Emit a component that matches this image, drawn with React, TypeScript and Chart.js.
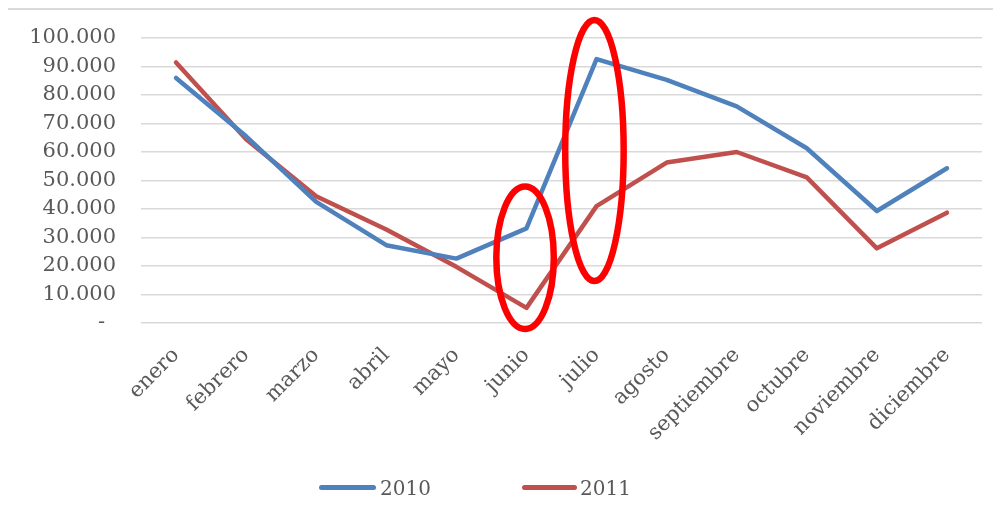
import React, { useEffect, useRef } from "react";
import { Chart, registerables } from "chart.js";

Chart.register(...registerables);

const months = [
  "enero", "febrero", "marzo", "abril", "mayo", "junio",
  "julio", "agosto", "septiembre", "octubre", "noviembre", "diciembre",
];
const series2010 = [86000, 65500, 42500, 27300, 22600, 33200, 92600, 85300, 76000, 61300, 39300, 54300];
const series2011 = [91400, 64500, 44500, 32800, 19700, 5300, 41000, 56300, 60000, 51100, 26200, 38700];
const seriesNames = ["2010", "2011"];
const seriesColors = ["#4F81BD", "#C0504D"];
const yMin = 0;
const yMax = 100000;
const yStep = 10000;

// red hand-drawn style rings
const ringCategories = ["junio", "julio"];
const ringCenters = [22900, 60500];
const ringHalfHeights = [25000, 45800];
const ringHalfWidths = [0.41, 0.417];
const ringShift = [-0.02, -0.03];

const FONT = "'DejaVu Serif', serif";
const TEXT = "#595959";

function fmt(v: number): string {
  if (v === 0) return "- \u2009";
  return String(v).replace(/\B(?=(\d{3})+(?!\d))/g, ".");
}

const ringPlugin = {
  id: "rings",
  afterDraw(chart: any) {
    const { ctx, scales } = chart;
    const x = scales.x;
    const y = scales.y;
    const step = x.getPixelForValue(1) - x.getPixelForValue(0);
    ctx.save();
    ctx.strokeStyle = "#FF0000";
    ctx.lineWidth = 6.5;
    ringCategories.forEach((cat, i) => {
      const idx = months.indexOf(cat);
      const cx = x.getPixelForValue(idx) + ringShift[i] * step;
      const cy = y.getPixelForValue(ringCenters[i]);
      const ry = Math.abs(y.getPixelForValue(ringCenters[i] + ringHalfHeights[i]) - cy);
      const rx = ringHalfWidths[i] * step;
      ctx.beginPath();
      ctx.ellipse(cx, cy, rx, ry, 0, 0, Math.PI * 2);
      ctx.stroke();
    });
    ctx.restore();
  },
};

export default function App() {
  const ref = useRef<HTMLCanvasElement | null>(null);

  useEffect(() => {
    if (!ref.current) return;
    const chart = new Chart(ref.current, {
      type: "line",
      data: {
        labels: months,
        datasets: [
          {
            label: seriesNames[0],
            data: series2010,
            borderColor: seriesColors[0],
            backgroundColor: seriesColors[0],
            borderWidth: 4.5,
            pointRadius: 0,
            tension: 0,
            borderCapStyle: "round",
            borderJoinStyle: "round",
          },
          {
            label: seriesNames[1],
            data: series2011,
            borderColor: seriesColors[1],
            backgroundColor: seriesColors[1],
            borderWidth: 4.5,
            pointRadius: 0,
            tension: 0,
            borderCapStyle: "round",
            borderJoinStyle: "round",
          },
        ],
      },
      options: {
        responsive: false,
        animation: false,
        devicePixelRatio: 1,
        layout: { padding: { top: 30, right: 11, left: 0, bottom: 0 } },
        plugins: {
          legend: { display: false },
          tooltip: { enabled: false },
        },
        scales: {
          x: {
            offset: true,
            grid: { display: false, drawTicks: false },
            border: { display: false },
            ticks: {
              autoSkip: false,
              maxRotation: 45,
              minRotation: 45,
              padding: 20,
              color: TEXT,
              font: { family: FONT, size: 21 },
            },
            afterFit: (s: any) => {
              s.height = 181;
            },
          },
          y: {
            min: yMin,
            max: yMax,
            grid: { color: "#D9D9D9", lineWidth: 1.5, drawTicks: false },
            border: { display: false },
            ticks: {
              stepSize: yStep,
              padding: 25,
              color: TEXT,
              font: { family: FONT, size: 21 },
              callback: (v: any) => fmt(Number(v)),
            },
            afterFit: (s: any) => {
              s.width = 133;
              s.paddingTop = 0;
              s.paddingBottom = 0;
            },
          },
        },
      },
      plugins: [ringPlugin],
    });
    return () => chart.destroy();
  }, []);

  const legendText: React.CSSProperties = {
    position: "absolute",
    fontFamily: FONT,
    fontSize: 20,
    color: TEXT,
    lineHeight: "24px",
    top: 468,
  };
  const legendLine = (left: number, width: number, color: string): React.CSSProperties => ({
    position: "absolute",
    left,
    width,
    top: 477,
    height: 5,
    borderRadius: 3,
    background: color,
  });

  return (
    <div style={{ position: "relative", width: 985, height: 496 }}>
      <div
        style={{
          position: "absolute",
          left: -2,
          top: 0,
          width: 990,
          height: 496,
          borderLeft: "2px solid #D9D9D9",
          borderTop: "2px solid #D9D9D9",
          boxSizing: "border-box",
        }}
      />
      <canvas
        ref={ref}
        width={985}
        height={496}
        style={{ position: "absolute", left: 0, top: 0, width: 985, height: 496, display: "block" }}
      />
      <div style={legendLine(311, 57, seriesColors[0])} />
      <div style={{ ...legendText, left: 372 }}>{seriesNames[0]}</div>
      <div style={legendLine(514, 55, seriesColors[1])} />
      <div style={{ ...legendText, left: 572 }}>{seriesNames[1]}</div>
    </div>
  );
}
